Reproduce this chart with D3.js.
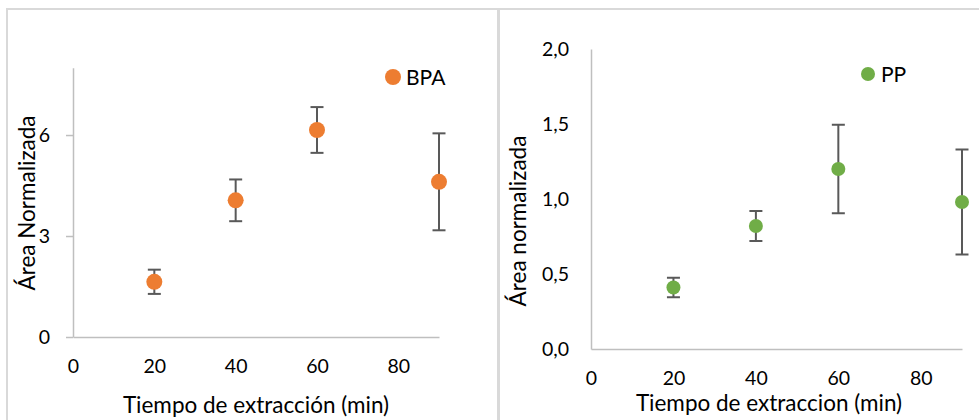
<!DOCTYPE html>
<html>
<head>
<meta charset="utf-8">
<script src="https://cdn.jsdelivr.net/npm/d3@7"></script>
<style>
  html, body { margin: 0; padding: 0; background: #fff; }
  svg { display: block; font-family: Lato, "Open Sans", sans-serif; }
</style>
</head>
<body>
<svg id="chart" width="979" height="420"></svg>
<script>
// ---- data ----
const timeMin = [20, 40, 60, 90];
const bpaArea = [1.64, 4.06, 6.15, 4.61];
const bpaErr  = [0.36, 0.62, 0.68, 1.44];
const ppArea  = [0.41, 0.82, 1.20, 0.98];
const ppErr   = [0.065, 0.10, 0.295, 0.35];
const xTicks = [0, 20, 40, 60, 80];
const bpaYTicks = [0, 3, 6];
const ppYTicks = [0, 0.5, 1.0, 1.5, 2.0];
const leftTitles = { x: "Tiempo de extracción (min)", y: "Área Normalizada", legend: "BPA" };
const rightTitles = { x: "Tiempo de extraccion (min)", y: "Área normalizada", legend: "PP" };

const svg = d3.select("#chart");
const gridColor = "#d9d9d9";
const axisColor = "#bfbfbf";
const textColor = "#000";
const errColor = "#595959";

// panel frames
svg.append("line").attr("x1", 6).attr("x2", 979).attr("y1", 9).attr("y2", 9)
  .attr("stroke", gridColor).attr("stroke-width", 2);
svg.append("line").attr("x1", 7).attr("x2", 7).attr("y1", 8).attr("y2", 420)
  .attr("stroke", gridColor).attr("stroke-width", 2);
svg.append("line").attr("x1", 498.5).attr("x2", 498.5).attr("y1", 8).attr("y2", 420)
  .attr("stroke", gridColor).attr("stroke-width", 3);

function panel(cfg) {
  const g = svg.append("g");
  const x = d3.scaleLinear().domain([0, 90]).range(cfg.xRange);
  const y = d3.scaleLinear().domain(cfg.yDomain).range(cfg.yRange);

  // y axis
  const yAxis = d3.axisLeft(y).tickValues(cfg.yTicks).tickFormat(cfg.yFormat)
    .tickSizeInner(cfg.yTickSize).tickSizeOuter(0).tickPadding(cfg.yPad);
  const ya = g.append("g").attr("transform", `translate(${cfg.xRange[0]},0)`).call(yAxis);
  ya.select(".domain").attr("stroke", axisColor).attr("stroke-width", 1.5);
  ya.selectAll(".tick line").attr("stroke", axisColor).attr("stroke-width", 1.5);
  ya.selectAll(".tick text").attr("fill", textColor).style("font-size", "19.5px")
    .style("font-family", "Lato, sans-serif");

  // x axis
  const xAxis = d3.axisBottom(x).tickValues(xTicks).tickFormat(d3.format("d"))
    .tickSizeInner(0).tickSizeOuter(0).tickPadding(cfg.xPad);
  const xa = g.append("g").attr("transform", `translate(0,${cfg.yRange[0]})`).call(xAxis);
  xa.select(".domain").attr("stroke", axisColor).attr("stroke-width", 1.5);
  xa.selectAll(".tick text").attr("fill", textColor).style("font-size", "19.5px")
    .style("font-family", "Lato, sans-serif");

  // error bars
  const eb = g.append("g").attr("stroke", errColor).attr("stroke-width", 2);
  timeMin.forEach((t, i) => {
    const cx = x(t), v = cfg.values[i], e = cfg.errors[i];
    eb.append("line").attr("x1", cx).attr("x2", cx).attr("y1", y(v - e)).attr("y2", y(v + e));
    eb.append("line").attr("x1", cx - 6.5).attr("x2", cx + 6.5).attr("y1", y(v - e)).attr("y2", y(v - e));
    eb.append("line").attr("x1", cx - 6.5).attr("x2", cx + 6.5).attr("y1", y(v + e)).attr("y2", y(v + e));
  });

  // markers
  g.append("g").selectAll("circle").data(timeMin).join("circle")
    .attr("cx", d => x(d)).attr("cy", (d, i) => y(cfg.values[i]))
    .attr("r", cfg.r).attr("fill", cfg.color);

  // legend
  g.append("circle").attr("cx", cfg.legend[0]).attr("cy", cfg.legend[1]).attr("r", cfg.r).attr("fill", cfg.color);
  g.append("text").attr("x", cfg.legend[0] + 13).attr("y", cfg.legend[1]).attr("dy", "0.36em")
    .style("font-size", "21px").attr("fill", textColor).text(cfg.titles.legend);

  // axis titles
  g.append("text").attr("x", cfg.xTitle[0]).attr("y", cfg.xTitle[1]).attr("text-anchor", "middle")
    .style("font-size", "22.5px").attr("fill", textColor).text(cfg.titles.x);
  g.append("text").attr("transform", `translate(${cfg.yTitle[0]},${cfg.yTitle[1]}) rotate(-90)`)
    .attr("text-anchor", "middle").attr("dy", "0.36em")
    .style("font-size", "22.5px").attr("fill", textColor).text(cfg.titles.y);
}

panel({
  xRange: [73, 439], yDomain: [0, 8], yRange: [337, 67.7],
  yTicks: bpaYTicks, yFormat: d3.format("d"), yTickSize: 7, yPad: 16, xPad: 22,
  values: bpaArea, errors: bpaErr, color: "#ED7D31", r: 8,
  legend: [393, 77], xTitle: [256, 413], yTitle: [27, 203], titles: leftTitles
});

const commaFmt = d => d3.format(".1f")(d).replace(".", ",");
panel({
  xRange: [591, 962], yDomain: [0, 2], yRange: [349, 49],
  yTicks: ppYTicks, yFormat: commaFmt, yTickSize: 0, yPad: 22, xPad: 22,
  values: ppArea, errors: ppErr, color: "#70AD47", r: 7,
  legend: [868, 74], xTitle: [769, 411], yTitle: [518, 221], titles: rightTitles
});
</script>
</body>
</html>
